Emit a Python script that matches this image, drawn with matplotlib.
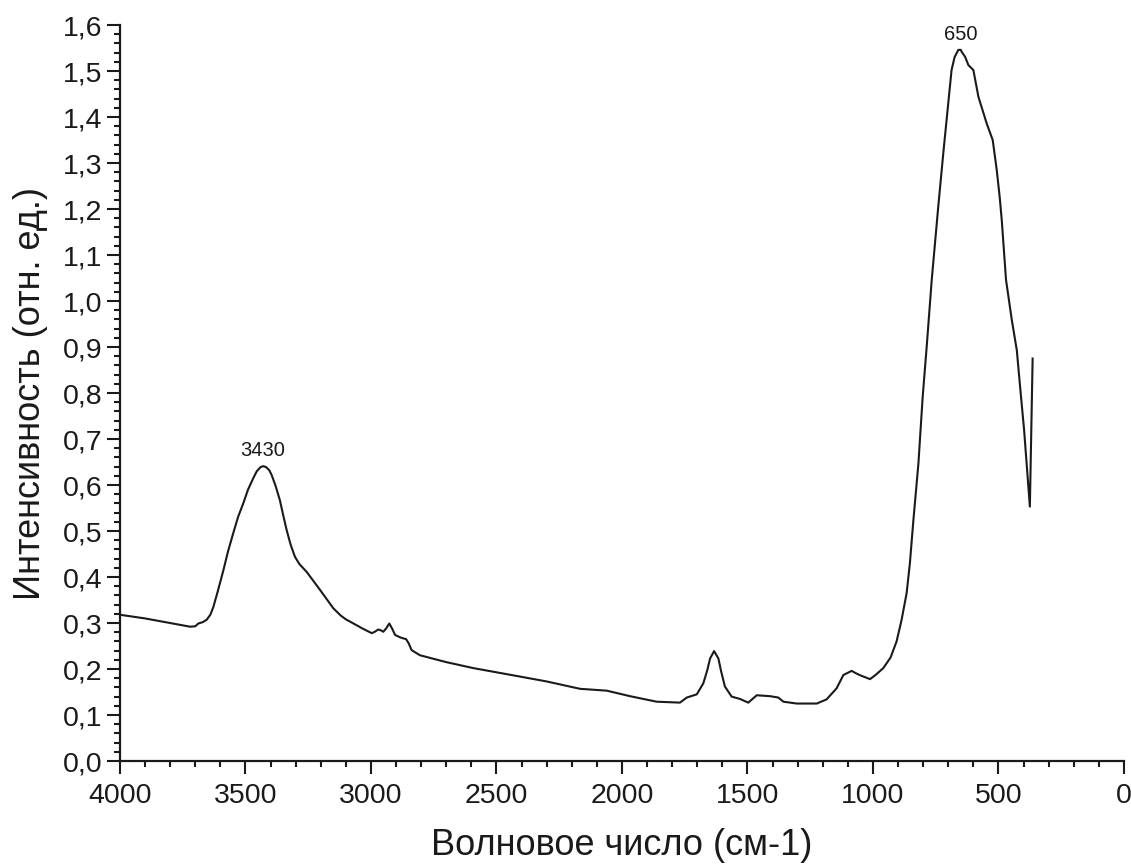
import matplotlib
matplotlib.use("Agg")
import matplotlib.pyplot as plt
from matplotlib.ticker import MultipleLocator, FuncFormatter

plt.rcParams['font.family'] = ['Liberation Sans', 'DejaVu Sans']

wavenumber = [4000, 3900, 3800, 3761, 3720, 3700, 3688, 3670, 3655, 3640, 3628, 3610, 3588,
              3570, 3549, 3530, 3509, 3490, 3469, 3455, 3440, 3429, 3418, 3405, 3396, 3380,
              3363, 3350, 3336, 3320, 3303, 3285, 3256, 3230, 3203, 3175, 3150, 3120,
              3100, 3070, 3030, 2997, 2985, 2971, 2960, 2951, 2940, 2927, 2915, 2904,
              2880, 2860, 2850, 2838, 2805, 2700, 2592, 2500, 2400, 2300, 2167, 2061,
              1968, 1862, 1769, 1742, 1702, 1676, 1660, 1649, 1633, 1616, 1605, 1590, 1563, 1530,
              1497, 1480, 1463, 1410, 1377, 1357, 1304, 1224, 1185, 1145, 1118, 1085,
              1065, 1045, 1030, 1012, 990, 959, 930, 906, 886, 866, 853, 839, 819, 802,
              786, 766, 740, 720, 700, 687, 675, 660, 650, 647, 633, 620, 600, 580, 547,
              523, 507, 495, 487, 470, 447, 427, 414, 398, 385, 375, 364]
intensity = [0.318, 0.310, 0.300, 0.296, 0.292, 0.293, 0.299, 0.302, 0.307, 0.318, 0.335, 0.370, 0.415,
             0.455, 0.495, 0.530, 0.560, 0.590, 0.615, 0.630, 0.639, 0.641, 0.639, 0.632, 0.622, 0.598,
             0.567, 0.535, 0.502, 0.470, 0.444, 0.428, 0.411, 0.392, 0.372, 0.351, 0.332, 0.316,
             0.308, 0.299, 0.287, 0.278, 0.281, 0.286, 0.284, 0.281, 0.288, 0.299, 0.287, 0.274,
             0.268, 0.265, 0.256, 0.241, 0.230, 0.215, 0.202, 0.193, 0.183, 0.173, 0.157, 0.153,
             0.141, 0.129, 0.127, 0.138, 0.145, 0.169, 0.198, 0.223, 0.239, 0.223, 0.195, 0.162, 0.140, 0.135,
             0.127, 0.135, 0.143, 0.141, 0.138, 0.129, 0.125, 0.125, 0.134, 0.158, 0.187, 0.196,
             0.190, 0.185, 0.182, 0.178, 0.187, 0.202, 0.225, 0.260, 0.307, 0.365, 0.430, 0.524, 0.647, 0.792,
             0.901, 1.046, 1.205, 1.321, 1.430, 1.502, 1.530, 1.546, 1.546, 1.542, 1.531, 1.513, 1.502, 1.444, 1.386,
             1.350, 1.285, 1.225, 1.176, 1.046, 0.959, 0.893, 0.814, 0.720, 0.625, 0.553, 0.875]

peak_labels = ["3430", "650"]
peak_x = [3430, 650]
peak_y = [0.676, 1.580]

fig = plt.figure(figsize=(11.31, 8.66), dpi=100)
ax = fig.add_axes([0.1061, 0.1212, 0.8877, 0.8499])
ax.plot(wavenumber, intensity, color='#1a1a1a', lw=1.5)

for lab, x, y in zip(peak_labels, peak_x, peak_y):
    ax.text(x, y, lab, ha='center', va='center', fontsize=14.5, color='#1a1a1a')

ax.set_xlim(4000, 0)
ax.set_ylim(0, 1.6)
ax.xaxis.set_major_locator(MultipleLocator(500))
ax.xaxis.set_minor_locator(MultipleLocator(100))
ax.yaxis.set_major_locator(MultipleLocator(0.1))
ax.yaxis.set_minor_locator(MultipleLocator(0.02))
ax.yaxis.set_major_formatter(FuncFormatter(lambda v, p: f"{v:.1f}".replace('.', ',')))

for s in ['top', 'right']:
    ax.spines[s].set_visible(False)
for s in ['left', 'bottom']:
    ax.spines[s].set_linewidth(1.6)
    ax.spines[s].set_color('#1a1a1a')

ax.tick_params(which='major', direction='out', length=9.5, width=1.5, labelsize=20.5,
               colors='#1a1a1a')
ax.tick_params(which='minor', direction='out', length=4.5, width=1.5, colors='#1a1a1a')
ax.tick_params(axis='y', which='major', pad=3)
ax.tick_params(axis='x', which='major', pad=6)

ax.set_xlabel("Волновое число (см-1)", fontsize=26, color='#1a1a1a', labelpad=14)
ax.set_ylabel("Интенсивность (отн. ед.)", fontsize=26, color='#1a1a1a', labelpad=11)

fig.savefig("out.png", dpi=100)
